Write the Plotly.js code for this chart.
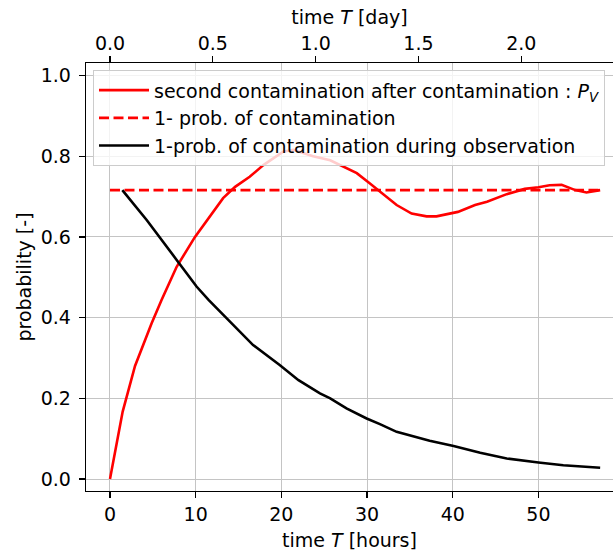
<!DOCTYPE html>
<html>
<head>
<meta charset="utf-8">
<script src="https://cdn.plot.ly/plotly-3.0.1.min.js"></script>
<style>
html,body{margin:0;padding:0;overflow:hidden;background:#fff;}
#chart{width:613px;height:551px;}
</style>
</head>
<body>
<div id="chart"></div>
<script>
// second contamination after contamination : P_V
const redHours = [0, 1.48, 2.92, 4.86, 6.03, 7.78, 9.92, 11.67, 13.2, 14.6, 16.3, 17.9, 20.2, 21.4, 23.7, 25.7, 27.2, 28.8, 30.3, 31.5, 33.45, 35.2, 36.95, 38.1, 40.6, 42.6, 44.0, 46.3, 48.4, 50.0, 51.3, 52.7, 54.3, 55.6, 57.2];
const redProb = [0, 0.167, 0.28, 0.386, 0.444, 0.526, 0.60, 0.65, 0.696, 0.724, 0.749, 0.778, 0.811, 0.816, 0.80, 0.79, 0.774, 0.758, 0.733, 0.712, 0.679, 0.658, 0.651, 0.651, 0.662, 0.679, 0.687, 0.706, 0.719, 0.723, 0.728, 0.729, 0.716, 0.710, 0.716];
// 1- prob. of contamination
const dashHours = [0, 57.2];
const dashProb = [0.716, 0.716];
// 1-prob. of contamination during observation
const blackHours = [1.44, 4.28, 7.78, 10.1, 11.5, 14.0, 16.7, 19.8, 22.0, 24.5, 25.7, 27.6, 29.95, 31.5, 33.45, 37.3, 40.1, 43.2, 46.3, 50.0, 52.9, 57.2];
const blackProb = [0.716, 0.642, 0.543, 0.477, 0.444, 0.39, 0.332, 0.2825, 0.245, 0.212, 0.2, 0.175, 0.150, 0.136, 0.117, 0.095, 0.082, 0.065, 0.051, 0.041, 0.034, 0.028];

const seriesNames = ['second contamination after contamination : <i>P<sub>V</sub></i>', '1- prob. of contamination', '1-prob. of contamination during observation'];
const hourTicks = [0, 10, 20, 30, 40, 50];
const dayTicks = [0, 0.5, 1.0, 1.5, 2.0];
const probTicks = [0, 0.2, 0.4, 0.6, 0.8, 1.0];

const hourRange = [-2.8, 58.7];
const FONT = 'DejaVu Sans, sans-serif';
const FS = 19;

const traces = [
  {x: redHours, y: redProb, type: 'scatter', mode: 'lines', name: seriesNames[0],
   line: {color: '#ff0000', width: 2.6}},
  {x: dashHours, y: dashProb, type: 'scatter', mode: 'lines', name: seriesNames[1],
   line: {color: '#ff0000', width: 2.6, dash: '10px,4.5px'}},
  {x: blackHours, y: blackProb, type: 'scatter', mode: 'lines', name: seriesNames[2],
   line: {color: '#000000', width: 2.6}}
];

const layout = {
  width: 613, height: 551,
  margin: {l: 86, r: 0, t: 63, b: 60, pad: 0},
  paper_bgcolor: '#ffffff', plot_bgcolor: '#ffffff',
  font: {family: FONT, size: FS, color: '#000'},
  showlegend: true,
  legend: {x: 0.0133, y: 0.983, xanchor: 'left', yanchor: 'top',
    bgcolor: 'rgba(255,255,255,0.8)', bordercolor: '#cccccc', borderwidth: 1,
    itemwidth: 50,
    font: {family: FONT, size: FS, color: '#000'}, traceorder: 'normal'},
  xaxis: {
    range: hourRange, tickvals: hourTicks, ticktext: hourTicks.map(String),
    showgrid: true, gridcolor: '#c4c4c4', gridwidth: 1, zeroline: false,
    showline: true, linecolor: '#000', linewidth: 1.3, mirror: false,
    ticks: 'outside', ticklen: 6, tickwidth: 1.2, tickcolor: '#000',
    tickfont: {family: FONT, size: FS, color: '#000'},
    title: {text: 'time <i>T</i> [hours]', font: {family: FONT, size: FS, color: '#000'}, standoff: 9}
  },
  xaxis2: {
    overlaying: 'x', side: 'top', anchor: 'y',
    range: [hourRange[0] / 24, hourRange[1] / 24], tickvals: dayTicks, ticktext: dayTicks.map(v => v.toFixed(1)),
    showgrid: false, zeroline: false, showline: true, linecolor: '#000', linewidth: 1.3,
    ticks: 'outside', ticklen: 6, tickwidth: 1.2, tickcolor: '#000', ticklabelstandoff: -2,
    tickfont: {family: FONT, size: FS, color: '#000'},
    title: {text: 'time <i>T</i> [day]', font: {family: FONT, size: FS, color: '#000'}, standoff: 2}
  },
  yaxis: {
    range: [-0.0297, 1.031], tickvals: probTicks, ticktext: probTicks.map(v => v.toFixed(1)),
    showgrid: true, gridcolor: '#c4c4c4', gridwidth: 1, zeroline: false,
    showline: true, linecolor: '#000', linewidth: 1.3,
    ticks: 'outside', ticklen: 6, tickwidth: 1.2, tickcolor: '#000', ticklabelstandoff: 4,
    tickfont: {family: FONT, size: FS, color: '#000'},
    title: {text: 'probability [-]', font: {family: FONT, size: FS, color: '#000'}, standoff: 4}
  }
};

// helper trace so the top (day) axis is bound to the data scale
traces.push({x: dashHours.map(h => h / 24), y: dashProb, xaxis: 'x2', yaxis: 'y', type: 'scatter', mode: 'lines',
  line: {width: 0, color: 'rgba(0,0,0,0)'}, showlegend: false, hoverinfo: 'skip'});

Plotly.newPlot('chart', traces, layout, {staticPlot: true, displayModeBar: false});
</script>
</body>
</html>
